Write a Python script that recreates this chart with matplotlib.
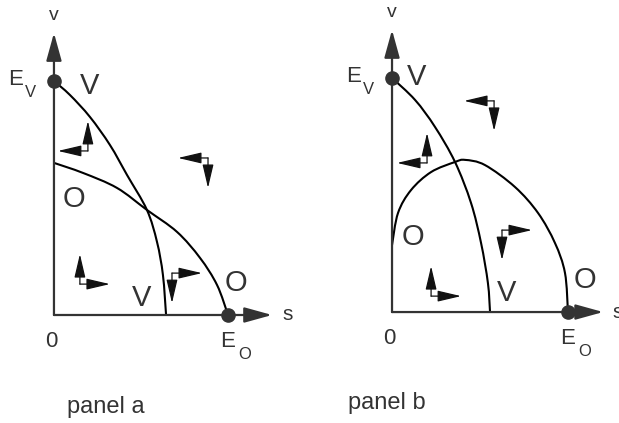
import numpy as np
import matplotlib.pyplot as plt
from matplotlib.path import Path
from matplotlib.patches import PathPatch

plt.rcParams['font.family'] = ['Liberation Sans', 'DejaVu Sans']

INK = '#333333'

# s = share of output, v = share of value; both scaled so that E_O and E_V sit at 1
e_o = 1.0
e_v = 1.0

# panel a: both isoclines fall from the axes
va_s = [0.0, 0.092, 0.207, 0.322, 0.420, 0.534, 0.592, 0.626, 0.644]
va_v = [1.0, 0.940, 0.846, 0.726, 0.598, 0.449, 0.312, 0.171, 0.0]
oa_s = [0.0, 0.167, 0.362, 0.534, 0.707, 0.839, 0.937, 1.0]
oa_v = [0.650, 0.607, 0.543, 0.449, 0.355, 0.244, 0.128, 0.0]

# panel b: O isocline is hump shaped
vb_s = [0.0, 0.131, 0.244, 0.358, 0.449, 0.506, 0.545, 0.557]
vb_v = [1.0, 0.906, 0.791, 0.641, 0.466, 0.295, 0.124, 0.0]
ob_s = [0.0, 0.034, 0.108, 0.222, 0.358, 0.415, 0.528, 0.699, 0.830, 0.926, 0.983, 1.0]
ob_v = [0.286, 0.423, 0.521, 0.598, 0.641, 0.650, 0.628, 0.534, 0.423, 0.295, 0.167, 0.0]

# direction glyphs: corner (s, v), horizontal sign, vertical sign
flow_a = [(0.195, 0.701, -1, 1), (0.885, 0.671, -1, -1),
          (0.149, 0.132, 1, 1), (0.678, 0.179, 1, -1)]
flow_b = [(0.580, 0.902, -1, -1), (0.199, 0.637, -1, 1),
          (0.625, 0.350, 1, -1), (0.222, 0.068, 1, 1)]

# label positions (s, v)
labels_a = {'V_top': (0.207, 0.979), 'O_left': (0.115, 0.496),
            'V_bot': (0.506, 0.073), 'O_right': (1.046, 0.137)}
labels_b = {'V_top': (0.142, 1.004), 'O_left': (0.119, 0.321),
            'V_bot': (0.653, 0.081), 'O_right': (1.097, 0.137)}

fig = plt.figure(figsize=(6.19, 4.23), dpi=100)
ax_a = fig.add_axes([0, 0, 309.5 / 619, 1])
ax_b = fig.add_axes([309.5 / 619, 0, 309.5 / 619, 1])
ax_a.set_xlim(-0.310, 1.468)
ax_a.set_ylim(-0.4615, 1.346)
ax_b.set_xlim(-0.469, 1.290)
ax_b.set_ylim(-0.474, 1.333)


def smooth_curve(ax, xs, ys):
    # Catmull-Rom through the points, drawn as cubic Bezier segments
    p = np.column_stack([xs, ys])
    ext = np.vstack([p[0], p, p[-1]])
    verts = [p[0]]
    codes = [Path.MOVETO]
    for i in range(1, len(ext) - 2):
        c1 = ext[i] + (ext[i + 1] - ext[i - 1]) / 6
        c2 = ext[i + 1] - (ext[i + 2] - ext[i]) / 6
        verts += [c1, c2, ext[i + 1]]
        codes += [Path.CURVE4] * 3
    ax.add_patch(PathPatch(Path(verts, codes), fc='none', ec='black', lw=1.5))


def axis_arrow(ax, x0, y0, x1, y1):
    ax.annotate('', xy=(x1, y1), xytext=(x0, y0),
                arrowprops=dict(arrowstyle='-|>,head_length=17,head_width=4.7',
                                mutation_scale=1, color=INK, lw=1.6,
                                shrinkA=0, shrinkB=0))


def flow(ax, s, v, hx, vy):
    arm = 30
    for dx, dy in ((hx * arm, 0), (0, vy * arm)):
        ax.annotate('', xy=(s, v), xytext=(dx, dy), textcoords='offset pixels',
                    arrowprops=dict(arrowstyle='<|-,head_length=14.5,head_width=3.4',
                                    mutation_scale=1, color='#111111', lw=0.9,
                                    shrinkA=0, shrinkB=0))


def draw_panel(ax, v_s, v_v, o_s, o_v, flows, labels, s_top, v_top, s_lab):
    ax.axis('off')
    axis_arrow(ax, 0, 0, s_top, 0)
    axis_arrow(ax, 0, 0, 0, v_top)
    smooth_curve(ax, v_s, v_v)
    smooth_curve(ax, o_s, o_v)
    ax.plot([0, e_o], [e_v, 0], 'o', color=INK, ms=9.5, zorder=5, ls='none')
    for s, v, hx, vy in flows:
        flow(ax, s, v, hx, vy)
    big = dict(fontsize=21, color=INK, ha='center', va='center')
    ax.text(*labels['V_top'], 'V', **big)
    ax.text(*labels['O_left'], 'O', **big)
    ax.text(*labels['V_bot'], 'V', **big)
    ax.text(*labels['O_right'], 'O', **big)
    small = dict(fontsize=16, color=INK, ha='center', va='center')
    ax.text(0, v_top + 0.075, 'v', fontsize=14, color=INK, ha='center', va='center')
    ax.text(-0.22, e_v + 0.005, 'E', **small)
    ax.text(-0.135, e_v - 0.05, 'V', fontsize=12, color=INK, ha='center', va='center')
    ax.text(-0.015, -0.113, '0', **small)
    ax.text(e_o - 0.003, -0.115, 'E', **small)
    ax.text(e_o + 0.095, -0.17, 'O', fontsize=12, color=INK, ha='center', va='center')
    ax.text(s_lab, 0, 's', fontsize=15, color=INK, ha='left', va='center', clip_on=False)


draw_panel(ax_a, va_s, va_v, oa_s, oa_v, flow_a, labels_a, 1.253, 1.205, 1.31)
draw_panel(ax_b, vb_s, vb_v, ob_s, ob_v, flow_b, labels_b, 1.2, 1.205, 1.255)

fig.text(106 / 619, 1 - 407 / 423, 'panel a', fontsize=17, color=INK, ha='center', va='center')
fig.text(387 / 619, 1 - 403 / 423, 'panel b', fontsize=17, color=INK, ha='center', va='center')

fig.savefig('out.png', dpi=100)
